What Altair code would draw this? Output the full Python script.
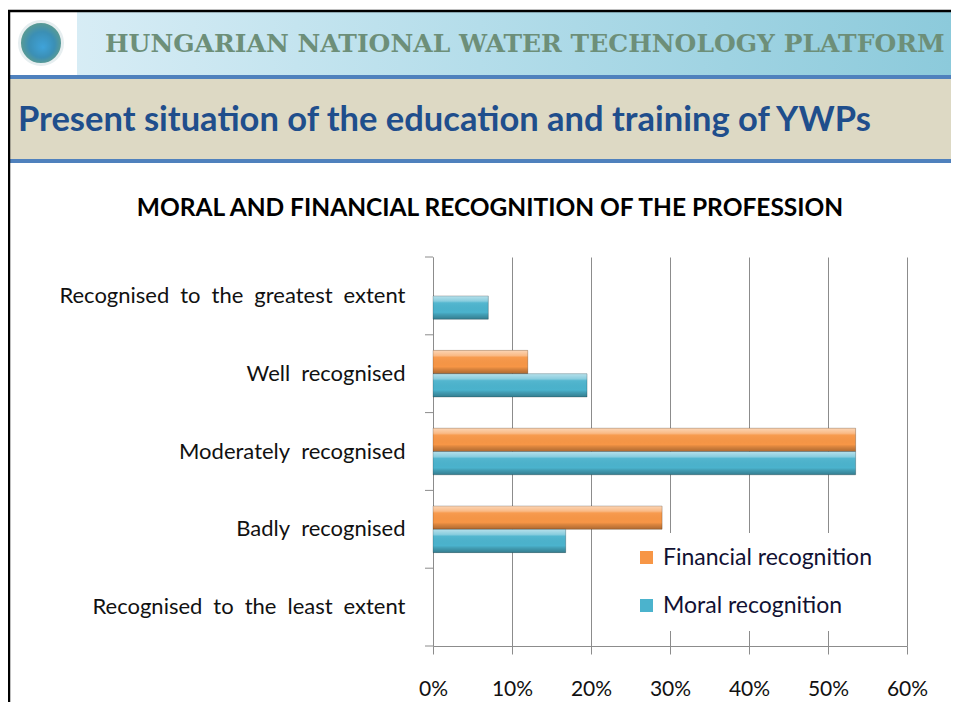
import altair as alt
import pandas as pd

# ---------------- data ----------------
categories = [
    "Recognised to the greatest extent",
    "Well recognised",
    "Moderately recognised",
    "Badly recognised",
    "Recognised to the least extent",
]
series = ["Financial recognition", "Moral recognition"]
financial = [0.0, 0.12, 0.535, 0.29, 0.0]
moral = [0.07, 0.195, 0.535, 0.168, 0.0]
x_ticks = [0, 0.1, 0.2, 0.3, 0.4, 0.5, 0.6]

header_text = "HUNGARIAN NATIONAL WATER TECHNOLOGY PLATFORM"
subtitle_text = "Present situation of the education and training of YWPs"
chart_title = "MORAL AND FINANCIAL RECOGNITION OF THE PROFESSION"

rows = []
for c, f, m in zip(categories, financial, moral):
    rows.append({"cat": c, "series": series[0], "value": f})
    rows.append({"cat": c, "series": series[1], "value": m})
df = pd.DataFrame(rows)
cat_df = pd.DataFrame({"cat": categories})

# ---------------- layout (plot area at page 433,257) ----------------
W, H = 474, 389
OX, OY = 433, 257  # page coords of plot origin


def px(x):
    return x - OX


def py(y):
    return y - OY


one = alt.Data(values=[{"a": 1}])

y_scale = alt.Scale(domain=categories, paddingInner=0, paddingOuter=0)
yoff_scale = alt.Scale(domain=series, paddingInner=0, paddingOuter=0.667)
x_scale = alt.Scale(domain=[0, 0.6], nice=False)


def rect(x1, y1, x2, y2, fill):
    return alt.Chart(one).mark_rect(fill=fill).encode(
        x=alt.value(px(x1)), x2=alt.value(px(x2)),
        y=alt.value(py(y1)), y2=alt.value(py(y2)))


header_grad = {
    "gradient": "linear", "x1": 0, "y1": 0, "x2": 1, "y2": 0,
    "stops": [
        {"offset": 0, "color": "#DDEFF7"},
        {"offset": 0.5, "color": "#B4DDEA"},
        {"offset": 1, "color": "#8CCADB"},
    ],
}
globe_grad = {
    "gradient": "radial", "x1": 0.55, "y1": 0.6, "x2": 0.5, "y2": 0.5,
    "r1": 0, "r2": 0.5,
    "stops": [
        {"offset": 0, "color": "#3FA3DA"},
        {"offset": 0.6, "color": "#3B8FB5"},
        {"offset": 1, "color": "#5E9C8E"},
    ],
}

deco = [
    rect(9, 12, 951, 75, header_grad),
    rect(9, 12, 77, 75, "#FFFFFF"),
    alt.Chart(one).mark_circle(fill=globe_grad, opacity=1, size=1850, stroke="#E6EEF0", strokeWidth=3).encode(
        x=alt.value(px(41)), y=alt.value(py(43))),
    rect(9, 75, 951, 79, "#4F81BD"),
    rect(9, 79, 951, 159, "#DDD9C4"),
    rect(9, 159, 951, 163, "#4F81BD"),
    alt.Chart(one).mark_rule(color="#000000", strokeWidth=2.5).encode(
        x=alt.value(px(7)), x2=alt.value(px(951)), y=alt.value(py(11))),
    alt.Chart(one).mark_rule(color="#000000", strokeWidth=2.5).encode(
        x=alt.value(px(9)), y=alt.value(py(10)), y2=alt.value(py(730))),
    alt.Chart(one).mark_text(text=header_text, font="DejaVu Serif", fontWeight="bold",
                             fontSize=25, color="#6D8F79", align="left", baseline="alphabetic").encode(
        x=alt.value(px(105)), y=alt.value(py(52))),
    alt.Chart(one).mark_text(text=subtitle_text, font="Lato", fontWeight="bold",
                             fontSize=34.5, color="#1F4E8C", align="left", baseline="alphabetic").encode(
        x=alt.value(px(18)), y=alt.value(py(131))),
    alt.Chart(one).mark_text(text=chart_title, font="Lato", fontWeight="bold",
                             fontSize=24.5, color="#000000", align="center", baseline="alphabetic").encode(
        x=alt.value(px(490)), y=alt.value(py(216))),
]

y_enc = alt.Y("cat:N", scale=y_scale, sort=categories,
              axis=alt.Axis(title=None, ticks=False, tickSize=0, labelPadding=28,
                            labelExpr="replace(datum.label, / /g, '\u2002')",
                            labelFont="Lato", labelFontSize=22, labelColor="#111111",
                            labelLimit=420, domainColor="#8C8C8C", domainWidth=1))
x_enc = alt.X("value:Q", scale=x_scale,
              axis=alt.Axis(title=None, values=x_ticks, format=".0%", grid=True,
                            gridColor="#8C8C8C", gridWidth=1, domainColor="#8C8C8C",
                            tickColor="#8C8C8C", tickSize=8, labelPadding=24, labelFlush=False,
                            labelFont="Lato", labelFontSize=21, labelColor="#111111"))
yoff_enc = alt.YOffset("series:N", scale=yoff_scale, sort=series)

shadow = alt.Chart(df).transform_filter("datum.value > 0").mark_bar(
    color="rgba(0,0,0,0.16)", xOffset=3, yOffset=3, cornerRadius=1).encode(
    x=x_enc, y=y_enc, yOffset=yoff_enc)

bars = alt.Chart(df).mark_bar().encode(
    x=x_enc, y=y_enc, yOffset=yoff_enc,
    color=alt.Color("series:N", sort=series,
                    scale=alt.Scale(domain=series, range=["#F79646", "#4BB3CD"]),
                    legend=alt.Legend(title=None, orient="none", legendX=px(622), legendY=py(533),
                                      fillColor="#FFFFFF", padding=13, rowPadding=24,
                                      symbolType="square", symbolSize=170, symbolStrokeWidth=0,
                                      labelFont="Lato", labelFontSize=23, labelColor="#111133",
                                      labelOffset=5, labelLimit=400)),
)

bevel = {
    "gradient": "linear", "x1": 0, "y1": 0, "x2": 0, "y2": 1,
    "stops": [
        {"offset": 0, "color": "rgba(255,255,255,0.6)"},
        {"offset": 0.22, "color": "rgba(255,255,255,0.35)"},
        {"offset": 0.3, "color": "rgba(255,255,255,0.05)"},
        {"offset": 0.7, "color": "rgba(0,0,0,0.0)"},
        {"offset": 0.8, "color": "rgba(0,0,0,0.12)"},
        {"offset": 1, "color": "rgba(0,0,0,0.3)"},
    ],
}
overlay = alt.Chart(df).transform_filter("datum.value > 0").mark_bar(
    fill=bevel, stroke="rgba(0,0,0,0.25)", strokeWidth=0.8).encode(
    x=x_enc, y=y_enc, yOffset=yoff_enc)

ticks_y = alt.Chart(cat_df).mark_rule(color="#8C8C8C", strokeWidth=1).encode(
    y=alt.Y("cat:N", scale=y_scale, sort=categories, bandPosition=0),
    x=alt.value(-8), x2=alt.value(0))
tick_bottom = alt.Chart(one).mark_rule(color="#8C8C8C", strokeWidth=1).encode(
    y=alt.value(H), x=alt.value(-8), x2=alt.value(0))

chart = alt.layer(*deco, shadow, bars, overlay, ticks_y, tick_bottom).properties(
    width=W, height=H,
    padding={"left": 425, "top": 249, "right": 943 - 425 - W, "bottom": 56},
    autosize=alt.AutoSizeParams(type="none"),
    background="#FFFFFF",
).configure_view(stroke=None)

chart.save("out.html", embed_options={"renderer": "svg", "actions": False})
